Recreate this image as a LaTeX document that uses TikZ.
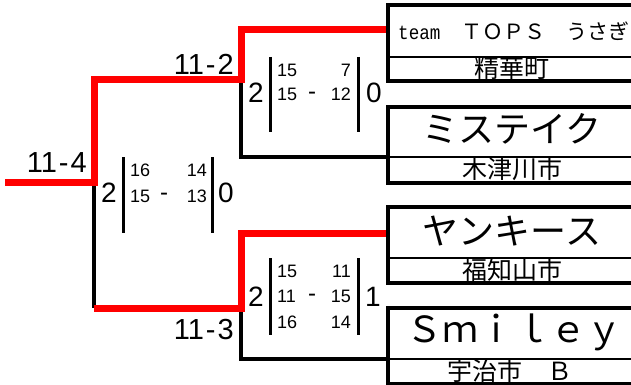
\documentclass[tikz,border=0pt]{standalone}
\usepackage{fontspec}
\setmainfont{Liberation Sans}
\newfontfamily\jp{Noto Sans CJK JP}
\newfontfamily\monofnt{Liberation Mono}
\begin{document}
\begin{tikzpicture}[x=1pt,y=-1pt,
  redline/.style={draw=red,line width=7pt,line join=miter},
  blkline/.style={draw=black,line width=3.5pt,line join=miter},
  bar/.style={draw=black,line width=3pt},
  boxframe/.style={draw=black,line width=3.5pt},
  divider/.style={draw=black,line width=1.2pt},
  big/.style={inner sep=0pt,font=\fontsize{28}{28}\selectfont},
  small/.style={inner sep=0pt,font=\fontsize{18}{18}\selectfont},
  hyph/.style={inner sep=0pt,font=\fontsize{24}{24}\selectfont},
  lbl/.style={inner sep=0pt,anchor=east,font=\fontsize{29}{29}\selectfont},
  bigname/.style={inner sep=0pt,font=\jp\fontsize{36}{36}\selectfont},
  town/.style={inner sep=0pt,font=\jp\fontsize{25}{25}\selectfont}]
\useasboundingbox (0,0) rectangle (631,385);
\clip (0,0) rectangle (631,385);

% named points
\coordinate (p1) at (388,30);
\coordinate (p2) at (388,157);
\coordinate (p3) at (388,233);
\coordinate (p4) at (388,359);
\coordinate (s1) at (241,80);
\coordinate (s2) at (241,308);
\coordinate (f) at (94,182);
\coordinate (w) at (5,182);

% black (losing) lines
\draw[blkline] (s1) |- (p2);
\draw[blkline] (s2) |- (p4);
\draw[blkline] (f) -- (f |- s2);
% red (winning) lines
\draw[redline] (p1) -| (s1) -| (f) -- (w);
\draw[redline] (p3) -| (s2) -- (f |- s2);

% team boxes
\foreach \t/\y in {1/5,2/107,3/207,4/308}{
  \draw[boxframe] (388,\y) rectangle (660,\y+76);
}
\draw[divider] (388,57) -- (660,57);
\draw[divider] (388,157) -- (660,157);
\draw[divider] (388,258) -- (660,258);
\draw[divider] (388,359) -- (660,359);

% team names
\node[inner sep=0pt,anchor=west] (n1) at (398,31) {\scalebox{0.88}[1]{\monofnt\fontsize{20}{20}\selectfont team}\jp\fontsize{21}{21}\selectfont　ＴＯＰＳ　うさぎ};
\node[town] (c1) at (512,68) {精華町};
\node[bigname] (n2) at (512,129) {ミステイク};
\node[town] (c2) at (512,169) {木津川市};
\node[bigname] (n3) at (512,231) {ヤンキース};
\node[town] (c3) at (512,270) {福知山市};
\node[bigname] (n4) at (514,332) {Ｓｍｉｌｅｙ};
\node[town] (c4) at (510,371) {宇治市　Ｂ};

% score labels
\node[lbl] (l2) at (234,64) {11\hspace{2pt}-\hspace{2pt}2};
\node[lbl] (l4) at (87,163) {11\hspace{2pt}-\hspace{2pt}4};
\node[lbl] (l3) at (234,330) {11\hspace{2pt}-\hspace{2pt}3};

% final score
\node[big] (fa) at (109,193) {2};
\draw[bar] (123,157) -- (123,233);
\draw[bar] (212,157) -- (212,233);
\node[small,anchor=west] at (130,170) {16};
\node[small,anchor=west] at (130,196.5) {15};
\node[hyph] at (164,197) {-};
\node[small,anchor=east] at (207,170) {14};
\node[small,anchor=east] at (207,196.5) {13};
\node[big] (fb) at (226,193) {0};

% semi-final 1
\node[big] (sa) at (256,93) {2};
\draw[bar] (270,57) -- (270,132);
\draw[bar] (358,57) -- (358,132);
\node[small,anchor=west] at (277,70) {15};
\node[small,anchor=west] at (277,94.5) {15};
\node[hyph] at (312,96) {-};
\node[small,anchor=east] at (351,70) {7};
\node[small,anchor=east] at (351,94.5) {12};
\node[big] (sb) at (374,93) {0};

% semi-final 2
\node[big] (ta) at (256,297) {2};
\draw[bar] (270,258) -- (270,335);
\draw[bar] (358,258) -- (358,335);
\node[small,anchor=west] at (277,271.5) {15};
\node[small,anchor=west] at (277,296.5) {11};
\node[small,anchor=west] at (277,322.5) {16};
\node[hyph] at (312,298) {-};
\node[small,anchor=east] at (351,271.5) {11};
\node[small,anchor=east] at (351,296.5) {15};
\node[small,anchor=east] at (351,322.5) {14};
\node[big] (tb) at (373,297) {1};
\end{tikzpicture}
\end{document}
